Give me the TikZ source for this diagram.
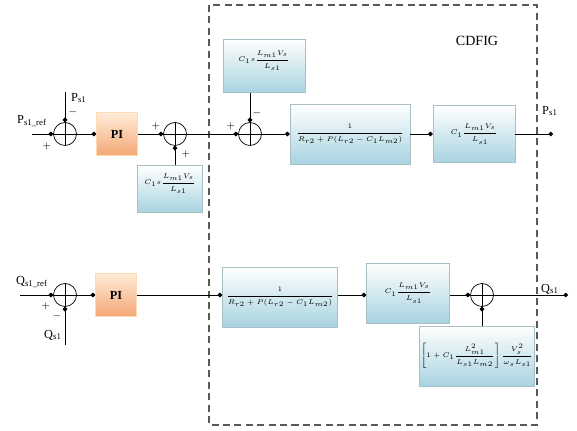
\documentclass[tikz,border=0pt]{standalone}
\usepackage{amsmath,amssymb}
\usepackage{graphicx}
\usepackage{xcolor}
\usepackage{fontspec}
\setmainfont{Liberation Serif}
\usetikzlibrary{arrows.meta}

\definecolor{boxblue}{HTML}{A8D3E0}
\definecolor{boxedge}{HTML}{A9BFC6}
\definecolor{piorange}{HTML}{F3A875}

% small formula inside a block
\newcommand{\blkfml}[1]{\scalebox{0.78}{$\displaystyle #1$}}

\begin{document}
\begin{tikzpicture}[x=0.02cm, y=-0.02cm,
    blk/.style={draw=boxedge, top color=white, bottom color=boxblue, inner sep=1pt, font=\fontsize{5}{6}\selectfont},
    pibox/.style={draw=orange!30, top color=orange!15, bottom color=piorange, minimum width=0.82cm, minimum height=0.86cm, font=\scriptsize\bfseries},
    sumj/.style={circle, draw, minimum size=0.46cm, inner sep=0pt,
        path picture={\draw (path picture bounding box.north) -- (path picture bounding box.south)
                            (path picture bounding box.west) -- (path picture bounding box.east);}},
    sig/.style={-{Circle[length=2.6pt]}},
    lbl/.style={font=\scriptsize, inner sep=1pt},
    sgn/.style={font=\fontsize{5}{5}\selectfont, inner sep=0pt}]
    \useasboundingbox (0,0) rectangle (577,431);
    % machine boundary
    \draw[gray!70!black, dash pattern=on 4pt off 2.5pt, line width=0.6pt] (209,5) rectangle (537,425);
    \node[font=\footnotesize] (cdfig) at (477,41) {CDFIG};

    % active power loop
    \coordinate (pin) at (32,134);
    \coordinate (pfb) at (65,92);
    \coordinate (pout) at (553,134);
    \node[sumj] (s1) at (65,134) {};
    \node[pibox] (pi1) at (117,134) {PI};
    \node[sumj] (s2) at (175,134) {};
    \node[blk, minimum width=1.3cm, minimum height=0.94cm, align=center] (k1) at (170,189) {\blkfml{C_1 s\frac{L_{m1}V_s}{L_{s1}}}\\[5pt]};
    \node[sumj] (s3) at (250,134) {};
    \node[blk, minimum width=1.64cm, minimum height=1.06cm, align=center] (k2) at (264,66) {\blkfml{C_1 s\frac{L_{m1}V_s}{L_{s1}}}\\[5pt]};
    \node[blk, minimum width=2.4cm, minimum height=1.2cm] (g1) at (350,134) {\blkfml{\frac{1}{R_{r2}+P(L_{r2}-C_1L_{m2})}}};
    \node[blk, minimum width=1.64cm, minimum height=1.14cm] (g2) at (474,134) {\blkfml{C_1\frac{L_{m1}V_s}{L_{s1}}}};

    \node[lbl] (pref) at (32,121) {P\textsubscript{s1\_ref}};
    \node[lbl] (pmeas) at (79,98) {P\textsubscript{s1}};
    \node[lbl] (pres) at (550,111) {P\textsubscript{s1}};
    \node[sgn] at (47,146) {$+$};
    \node[sgn] at (73,112) {$-$};
    \node[sgn] at (156,126) {$+$};
    \node[sgn] at (186,154) {$+$};
    \node[sgn] at (231,126) {$+$};
    \node[sgn] at (257,113) {$-$};

    \draw[sig] (pin) -- (s1);
    \draw[sig] (pfb) -- (s1);
    \draw[sig] (s1) -- (pi1);
    \draw[sig] (pi1) -- (s2);
    \draw[sig] (k1.north -| s2) -- (s2);
    \draw[sig] (s2) -- (s3);
    \draw[sig] (k2.south -| s3) -- (s3);
    \draw[sig] (s3) -- (g1);
    \draw[sig] (g1) -- (g2);
    \draw[sig] (g2) -- (pout);

    % reactive power loop
    \coordinate (qin) at (20,295);
    \coordinate (qfb) at (65,345);
    \coordinate (qout) at (568,295);
    \node[sumj] (s4) at (65,295) {};
    \node[pibox] (pi2) at (116,295) {PI};
    \node[blk, minimum width=2.3cm, minimum height=1.2cm] (g3) at (280,297) {\blkfml{\frac{1}{R_{r2}+P(L_{r2}-C_1L_{m2})}}};
    \node[blk, minimum width=1.66cm, minimum height=1.2cm] (g4) at (408,293) {\blkfml{C_1\frac{L_{m1}V_s}{L_{s1}}}};
    \node[sumj] (s5) at (482,295) {};
    \node[blk, minimum width=2.22cm, minimum height=1.2cm] (g5) at (477,356) {\blkfml{\left[1+C_1\frac{L_{m1}^2}{L_{s1}L_{m2}}\right]\frac{V_s^2}{\omega_s L_{s1}}}};

    \node[lbl] (qref) at (32,282) {Q\textsubscript{s1\_ref}};
    \node[lbl] (qmeas) at (53,335) {Q\textsubscript{s1}};
    \node[lbl] (qres) at (550,289) {Q\textsubscript{s1}};
    \node[sgn] at (46,306) {$+$};
    \node[sgn] at (57,316) {$-$};

    \draw[sig] (qin) -- (s4);
    \draw[sig] (qfb) -- (s4);
    \draw[sig] (s4) -- (pi2);
    \draw[sig] (pi2) -- (pi2 -| g3.west);
    \draw[sig] (g3.east |- s5) -- (g4.west |- s5);
    \draw[sig] (g4.east |- s5) -- (s5);
    \draw[sig] (g5.north -| s5) -- (s5);
    \draw[sig] (s5) -- (qout);
\end{tikzpicture}
\end{document}
